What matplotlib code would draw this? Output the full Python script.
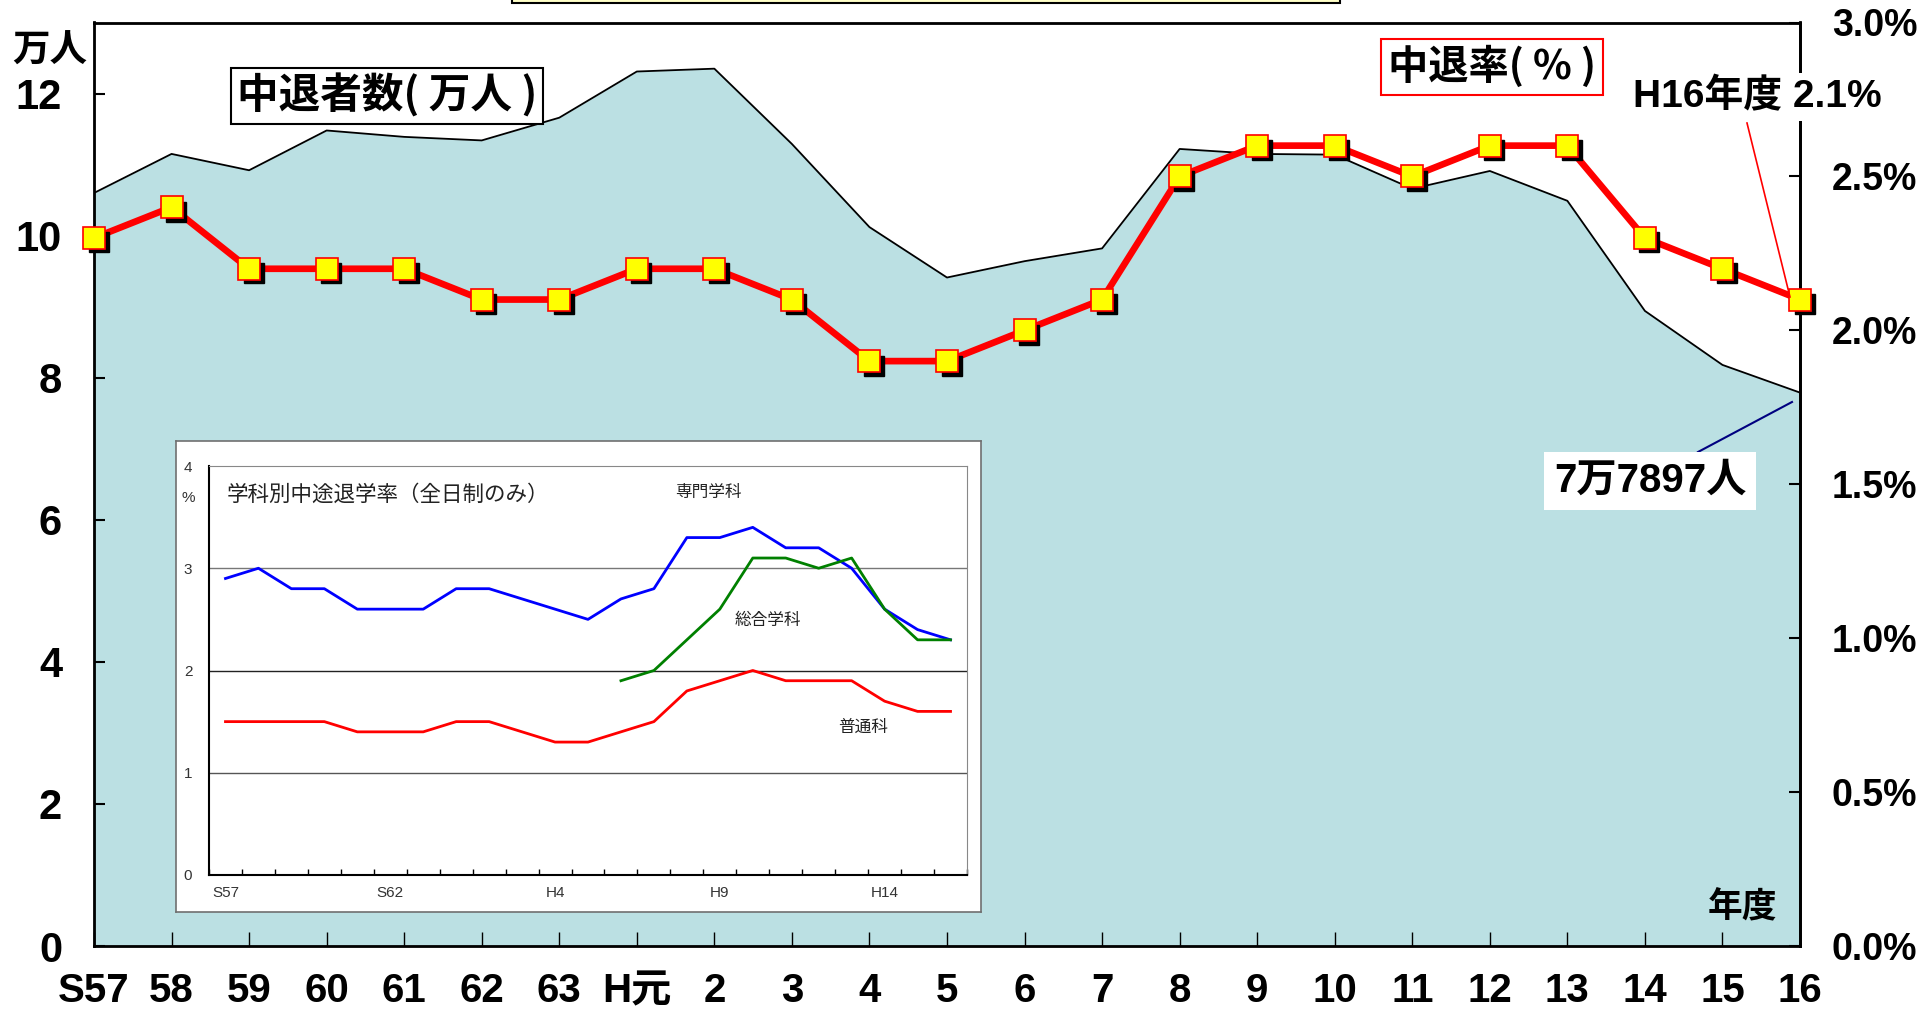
import numpy as np
import matplotlib
matplotlib.use('Agg')
import matplotlib.pyplot as plt
from matplotlib import transforms
from matplotlib.patches import Rectangle
from matplotlib.lines import Line2D

plt.rcParams['font.family'] = ['Noto Sans CJK JP', 'DejaVu Sans']

# school years (S = Showa, H = Heisei)
year_labels = ['S57', '58', '59', '60', '61', '62', '63', 'H元', '2', '3', '4', '5',
               '6', '7', '8', '9', '10', '11', '12', '13', '14', '15', '16']
# number of dropouts, 10k persons
dropouts_man = [10.60, 11.15, 10.92, 11.48, 11.39, 11.34, 11.66, 12.31, 12.35, 11.29, 10.12, 9.41,
                9.64, 9.82, 11.22, 11.15, 11.14, 10.66, 10.91, 10.49, 8.94, 8.18, 7.79]
# dropout rate, %
rate_pct = [2.3, 2.4, 2.2, 2.2, 2.2, 2.1, 2.1, 2.2, 2.2, 2.1, 1.9, 1.9,
            2.0, 2.1, 2.5, 2.6, 2.6, 2.5, 2.6, 2.6, 2.3, 2.2, 2.1]

# inset: dropout rate by course (full-time only)
senmon = [2.9, 3.0, 2.8, 2.8, 2.6, 2.6, 2.6, 2.8, 2.8, 2.7, 2.6, 2.5,
          2.7, 2.8, 3.3, 3.3, 3.4, 3.2, 3.2, 3.0, 2.6, 2.4, 2.3]
sogo = [np.nan]*12 + [1.9, 2.0, 2.3, 2.6, 3.1, 3.1, 3.0, 3.1, 2.6, 2.3, 2.3]
futsu = [1.5, 1.5, 1.5, 1.5, 1.4, 1.4, 1.4, 1.5, 1.5, 1.4, 1.3, 1.3,
         1.4, 1.5, 1.8, 1.9, 2.0, 1.9, 1.9, 1.9, 1.7, 1.6, 1.6]
inset_xlabels = {0: 'S57', 5: 'S62', 10: 'H4', 15: 'H9', 20: 'H14'}

W, H = 1932, 1010
def fx(px):
    return px / W
def fy(py):
    return 1 - py / H

latin = ['Liberation Sans', 'Noto Sans CJK JP']
x = np.arange(len(year_labels))

fig = plt.figure(figsize=(19.32, 10.10), dpi=100)

# yellow title box cut off at the top
fig.patches.append(Rectangle((fx(512), fy(3)), fx(1340) - fx(512), 0.05, transform=fig.transFigure,
                             facecolor='#FFFFC8', edgecolor='black', lw=1.5))

ax = fig.add_axes([fx(94), fy(946), fx(1800) - fx(94), fy(22.5) - fy(946)])
ax.fill_between(x, dropouts_man, 0, color='#BBE0E3', lw=0)
ax.plot(x, dropouts_man, color='black', lw=1.3)
ax.set_xlim(0, 22)
ax.set_ylim(0, 13)
ax.set_yticks(range(0, 13, 2))
ax.set_yticklabels([str(v) for v in range(0, 13, 2)], fontfamily=latin, fontweight='bold', fontsize=30)
ax.set_xticks(x)
ax.set_xticklabels(year_labels, fontfamily=latin, fontweight='bold', fontsize=29)
ax.tick_params(axis='y', direction='in', length=8, width=1.5, pad=23)
ax.tick_params(axis='x', direction='in', length=10, width=1, pad=19)
for s in ['left', 'right', 'bottom', 'top']:
    ax.spines[s].set_linewidth(2)

ax2 = ax.twinx()
ax2.set_ylim(0, 3.0)
ax2.set_xlim(0, 22)
rticks = np.arange(0, 3.01, 0.5)
ax2.set_yticks(rticks)
ax2.set_yticklabels(['%.1f%%' % v for v in rticks], fontfamily=latin, fontweight='bold', fontsize=27)
ax2.tick_params(axis='y', direction='in', length=8, width=1.5, pad=23)
ax2.spines['right'].set_linewidth(2)
ax2.plot(x, rate_pct, color='#FF0000', lw=4.8, zorder=3, clip_on=False)
shadow = transforms.offset_copy(ax2.transData, fig=fig, x=4.5, y=-4.5, units='dots')
ax2.plot(x, rate_pct, 's', color='black', ms=15, transform=shadow, zorder=4, clip_on=False)
ax2.plot(x, rate_pct, 's', mfc='#FFFF00', mec='#FF0000', mew=1.2, ms=15.5, zorder=5, clip_on=False)

# inset frame
frame = fig.add_axes([fx(176), fy(912), fx(981) - fx(176), fy(441) - fy(912)])
frame.set_xticks([])
frame.set_yticks([])
for s in frame.spines.values():
    s.set_color('#707070')
    s.set_linewidth(1.2)
fig.patches.append(Rectangle((fx(179), fy(915)), fx(981) - fx(176), fy(441) - fy(912), transform=fig.transFigure,
                             facecolor='#8A9A9C', edgecolor='none', zorder=-1))

ins = fig.add_axes([fx(209), fy(875), fx(967) - fx(209), fy(466) - fy(875)])
ins.set_xlim(-0.5, 22.5)
ins.set_ylim(0, 4)
ins.plot(x, senmon, color='#0000FF', lw=2)
ins.plot(x, sogo, color='#008000', lw=2)
ins.plot(x, futsu, color='#FF0000', lw=2)
for yv, c in [(1, '#555555'), (2, '#222222'), (3, '#777777')]:
    ins.axhline(yv, color=c, lw=1, zorder=0)
ins.set_yticks(range(5))
ins.set_yticklabels([str(v) for v in range(5)], fontfamily=['Liberation Sans'], fontsize=11, color='#333333')
ins.tick_params(axis='y', length=0, pad=12)
ins.set_xticks(list(inset_xlabels.keys()))
ins.set_xticklabels(list(inset_xlabels.values()), fontfamily=['Liberation Sans'], fontsize=11, color='#333333')
ins.set_xticks(np.arange(-0.5, 23, 1), minor=True)
ins.tick_params(axis='x', which='major', length=0, pad=8)
ins.tick_params(axis='x', which='minor', direction='in', length=4, width=1)
ins.spines['top'].set_color('#888888')
ins.spines['right'].set_color('#888888')
ins.spines['left'].set_linewidth(1.5)
ins.spines['bottom'].set_linewidth(1.5)
ins.text(0.05, 3.72, '学科別中途退学率（全日制のみ）', fontsize=15.5, va='center', ha='left', color='#222222')
ins.text(-1.14, 3.69, '%', fontsize=11, va='center', ha='center', color='#333333',
         fontfamily=['Liberation Sans'], clip_on=False)
ins.text(14.64, 3.74, '専門学科', fontsize=12, va='center', ha='center', color='#222222')
ins.text(16.46, 2.49, '総合学科', fontsize=12, va='center', ha='center', color='#222222')
ins.text(19.34, 1.44, '普通科', fontsize=12, va='center', ha='center', color='#222222')

# labels and annotations
fig.text(fx(50), fy(50), '万人', fontsize=27, fontweight='bold', ha='center', va='center')
fig.text(fx(387), fy(96), '中退者数( 万人 )', fontsize=30, fontweight='bold', ha='center', va='center',
         bbox=dict(boxstyle='square,pad=0.15', fc='white', ec='black', lw=1.5))
fig.text(fx(1492), fy(67), '中退率( % )', fontsize=29, fontweight='bold', ha='center', va='center',
         bbox=dict(boxstyle='square,pad=0.18', fc='white', ec='#FF0000', lw=1.5))
fig.text(fx(1757), fy(97), 'H16年度 2.1%', fontsize=28, fontweight='bold', ha='center', va='center',
         fontfamily=latin, zorder=10,
         bbox=dict(boxstyle='square,pad=0.15', fc='white', ec='none'))
fig.lines.append(Line2D([fx(1747), fx(1790)], [fy(123), fy(297)], transform=fig.transFigure,
                        color='#FF0000', lw=1.2))
fig.lines.append(Line2D([fx(1698), fx(1792)], [fy(452), fy(402)], transform=fig.transFigure,
                        color='#000080', lw=1.5))
fig.text(fx(1650), fy(481), '7万7897人', fontsize=29, fontweight='bold', ha='center', va='center',
         fontfamily=latin,
         bbox=dict(boxstyle='square,pad=0.25', fc='white', ec='none'))
fig.text(fx(1742), fy(907), '年度', fontsize=25, fontweight='bold', ha='center', va='center')

fig.savefig('out.png', dpi=100)
